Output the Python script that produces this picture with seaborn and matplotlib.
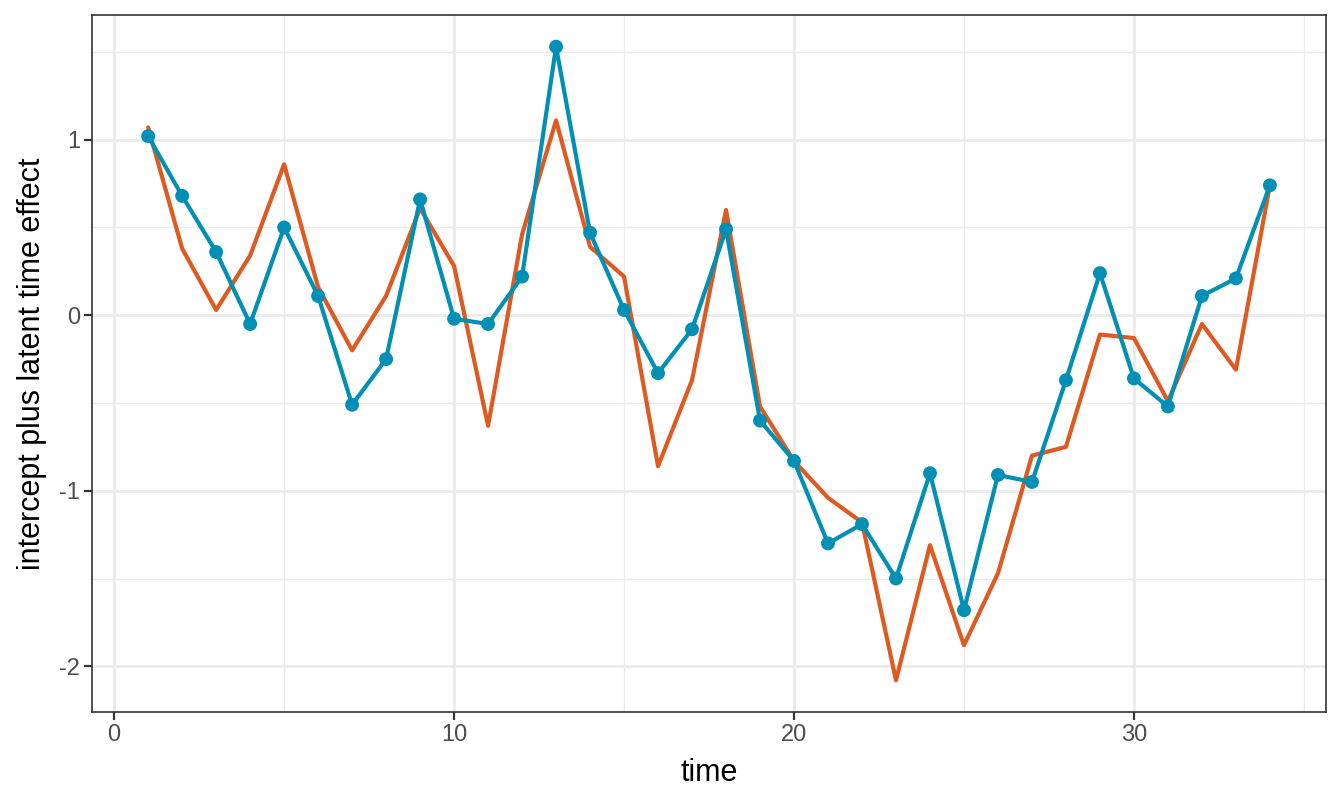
import matplotlib
matplotlib.use("Agg")
import matplotlib.pyplot as plt
from matplotlib.ticker import MultipleLocator
import seaborn as sns
import pandas as pd
import numpy as np

time = list(range(1, 35))
estimated = [1.07, 0.38, 0.03, 0.34, 0.86, 0.16, -0.20, 0.11, 0.61, 0.28,
             -0.63, 0.46, 1.11, 0.39, 0.22, -0.86, -0.37, 0.60, -0.52, -0.83,
             -1.04, -1.18, -2.08, -1.31, -1.88, -1.47, -0.80, -0.75, -0.11, -0.13,
             -0.49, -0.05, -0.31, 0.74]
observed = [1.02, 0.68, 0.36, -0.05, 0.50, 0.11, -0.51, -0.25, 0.66, -0.02,
            -0.05, 0.22, 1.53, 0.47, 0.03, -0.33, -0.08, 0.49, -0.60, -0.83,
            -1.30, -1.19, -1.50, -0.90, -1.68, -0.91, -0.95, -0.37, 0.24, -0.36,
            -0.52, 0.11, 0.21, 0.74]

df = pd.DataFrame({"time": time, "estimated": estimated, "observed": observed})

sns.set_theme(style="white")
plt.rcParams["font.family"] = ["Liberation Sans", "DejaVu Sans"]
plt.rcParams["axes.unicode_minus"] = False

fig = plt.figure(figsize=(13.44, 8.06), dpi=100)
ax = fig.add_axes([0.0685, 0.1166, 0.9181, 0.8648])

orange = "#DF5A20"
blue = "#008FB5"

sns.lineplot(data=df, x="time", y="estimated", ax=ax, color=orange, linewidth=3.0, zorder=3)
sns.lineplot(data=df, x="time", y="observed", ax=ax, color=blue, linewidth=3.0, zorder=4)
sns.scatterplot(data=df, x="time", y="observed", ax=ax, color=blue, s=100, edgecolor="none", zorder=5)

xmin, xmax = 1, 34
xr = (xmax - xmin) * 0.05
ax.set_xlim(xmin - xr, xmax + xr)
ymin, ymax = min(min(estimated), min(observed)), max(max(estimated), max(observed))
yr = (ymax - ymin) * 0.05
ax.set_ylim(ymin - yr, ymax + yr)

ax.xaxis.set_major_locator(MultipleLocator(10))
ax.xaxis.set_minor_locator(MultipleLocator(5))
ax.yaxis.set_major_locator(MultipleLocator(1))
ax.yaxis.set_minor_locator(MultipleLocator(0.5))

ax.grid(which="major", color="#EBEBEB", linewidth=2.0, zorder=0)
ax.grid(which="minor", color="#EBEBEB", linewidth=1.0, zorder=0)
ax.set_axisbelow(True)

for s in ax.spines.values():
    s.set_color("#333333")
    s.set_linewidth(1.2)

ax.tick_params(which="major", length=5.5, width=1.6, color="#333333",
               labelsize=17, labelcolor="#4D4D4D", pad=3, bottom=True, left=True)
ax.tick_params(which="minor", length=0)

ax.set_xlabel("time", fontsize=22, color="black", labelpad=9)
ax.set_ylabel("intercept plus latent time effect", fontsize=22, color="black", labelpad=9)

fig.savefig("out.png", dpi=100)
